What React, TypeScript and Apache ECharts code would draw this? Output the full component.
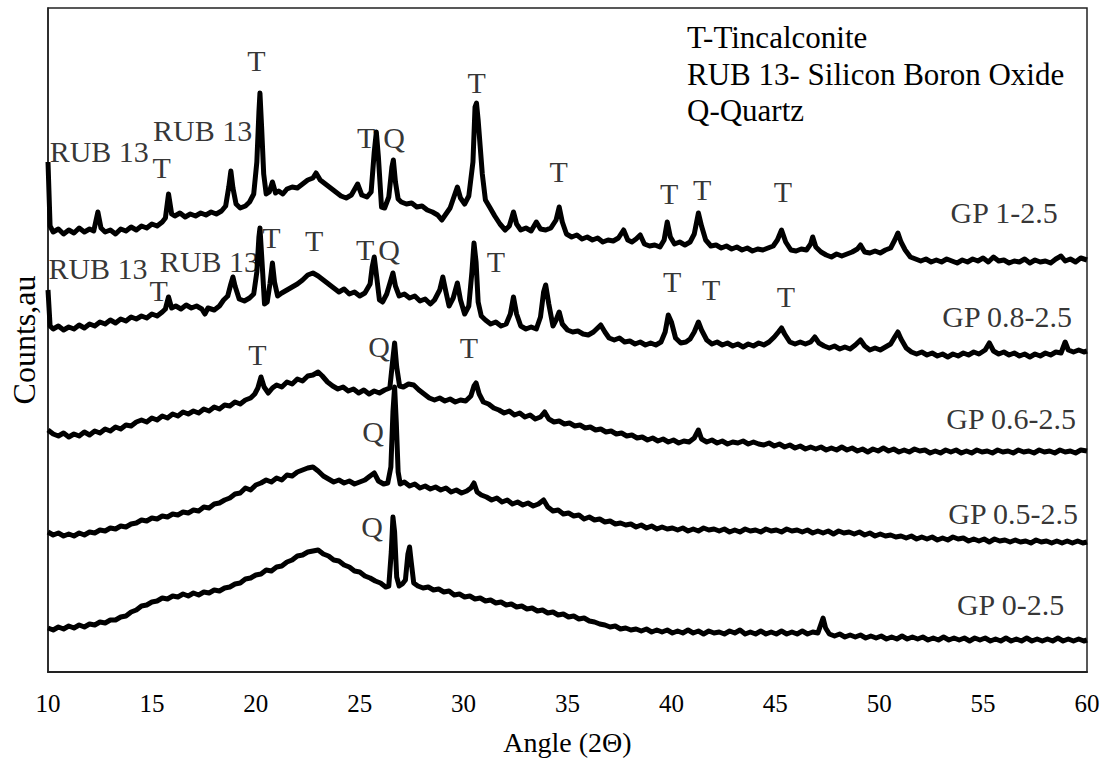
import React, { useEffect, useRef } from "react";
import * as echarts from "echarts";

// Diffraction angle range (2θ, degrees) and tick labels
const angleTicks = [10, 15, 20, 25, 30, 35, 40, 45, 50, 55, 60];

// Sample names, top to bottom, and the vertical shift applied to each pattern
const sampleNames = ["GP 1-2.5", "GP 0.8-2.5", "GP 0.6-2.5", "GP 0.5-2.5", "GP 0-2.5"];
const stackOffsets = [380, 300, 200, 100, 0];

// [2θ, intensity] pairs for each pattern (arbitrary units)
const gp1 = [
  [10.0,130],[10.1,66],[10.25,60],[10.5,63],[10.75,58],[11.0,62],[11.25,59],[11.5,64],[11.75,60],[12.0,63],[12.2,61],[12.4,80],[12.55,64],[12.75,60],[13.0,62],[13.25,58],[13.5,63],[13.75,61],[14.0,65],[14.25,62],[14.5,66],[14.75,64],[15.0,68],[15.25,66],[15.5,70],[15.65,74],[15.8,98],[15.95,78],[16.1,76],[16.35,79],[16.6,75],[16.85,78],[17.1,76],[17.35,79],[17.6,77],[17.85,80],[18.1,78],[18.35,81],[18.55,86],[18.7,105],[18.8,121],[18.9,104],[19.05,88],[19.25,84],[19.5,86],[19.7,90],[19.9,98],[20.05,130],[20.15,180],[20.2,199],[20.28,165],[20.38,118],[20.5,98],[20.65,100],[20.8,110],[20.95,99],[21.1,101],[21.3,98],[21.5,103],[21.75,105],[22.0,104],[22.25,108],[22.5,112],[22.75,114],[22.9,119],[23.1,112],[23.35,108],[23.6,104],[23.85,100],[24.1,96],[24.35,94],[24.6,97],[24.9,108],[25.1,97],[25.35,95],[25.55,100],[25.7,140],[25.8,160],[25.9,135],[26.05,85],[26.2,84],[26.4,95],[26.55,125],[26.62,132],[26.72,110],[26.85,93],[27.0,90],[27.25,88],[27.5,89],[27.75,85],[28.0,86],[28.25,82],[28.5,80],[28.75,77],[28.95,72],[29.15,78],[29.35,84],[29.55,96],[29.7,105],[29.85,94],[30.05,88],[30.25,96],[30.45,130],[30.55,185],[30.62,189],[30.7,172],[30.8,145],[30.9,118],[31.05,92],[31.25,85],[31.5,76],[31.75,68],[32.0,62],[32.2,66],[32.4,80],[32.55,68],[32.75,62],[33.0,64],[33.25,61],[33.5,70],[33.7,63],[33.95,62],[34.2,64],[34.45,72],[34.6,85],[34.75,70],[34.95,58],[35.2,55],[35.45,57],[35.7,53],[35.95,55],[36.2,52],[36.45,54],[36.7,50],[36.95,52],[37.2,51],[37.45,54],[37.7,62],[37.9,52],[38.1,50],[38.3,53],[38.5,57],[38.7,48],[38.95,46],[39.2,47],[39.45,45],[39.65,52],[39.8,70],[39.95,55],[40.15,48],[40.4,50],[40.65,47],[40.9,50],[41.1,58],[41.3,79],[41.45,66],[41.65,52],[41.9,46],[42.15,47],[42.4,44],[42.65,46],[42.9,43],[43.15,45],[43.4,42],[43.65,44],[43.9,41],[44.15,43],[44.4,42],[44.65,44],[44.9,46],[45.1,52],[45.3,62],[45.5,50],[45.75,42],[46.0,41],[46.25,43],[46.5,42],[46.7,48],[46.8,55],[46.95,45],[47.2,40],[47.45,37],[47.7,35],[47.95,38],[48.2,36],[48.45,38],[48.7,40],[48.95,43],[49.1,47],[49.3,40],[49.55,39],[49.8,41],[50.05,39],[50.3,42],[50.55,44],[50.75,52],[50.9,59],[51.05,50],[51.25,42],[51.5,35],[51.75,33],[52.0,31],[52.25,33],[52.5,30],[52.75,32],[53.0,30],[53.25,33],[53.5,31],[53.75,29],[54.0,32],[54.25,30],[54.5,33],[54.75,31],[55.0,34],[55.25,30],[55.5,35],[55.75,31],[56.0,32],[56.25,29],[56.5,31],[56.75,30],[57.0,33],[57.25,29],[57.5,32],[57.75,30],[58.0,31],[58.25,29],[58.5,33],[58.75,36],[58.95,31],[59.2,33],[59.45,30],[59.7,34],[60.0,32],
];

const gp08 = [
  [10.0,82],[10.1,46],[10.25,43],[10.5,46],[10.75,42],[11.0,45],[11.25,43],[11.5,47],[11.75,44],[12.0,48],[12.25,46],[12.5,50],[12.75,48],[13.0,52],[13.25,49],[13.5,53],[13.75,51],[14.0,55],[14.25,53],[14.5,56],[14.75,54],[15.0,58],[15.25,56],[15.5,60],[15.65,63],[15.8,75],[15.95,64],[16.15,66],[16.4,63],[16.65,67],[16.9,64],[17.15,66],[17.4,63],[17.55,58],[17.7,64],[18.0,62],[18.25,66],[18.45,72],[18.65,76],[18.8,88],[18.9,95],[19.0,86],[19.2,73],[19.45,71],[19.7,74],[19.9,78],[20.05,100],[20.15,135],[20.2,144],[20.3,110],[20.42,68],[20.55,70],[20.68,88],[20.8,109],[20.9,90],[21.05,76],[21.25,79],[21.5,82],[21.75,85],[22.0,88],[22.25,92],[22.5,97],[22.75,99],[23.0,96],[23.25,92],[23.5,88],[23.75,84],[24.0,80],[24.25,83],[24.5,78],[24.75,80],[25.0,76],[25.25,79],[25.5,88],[25.6,105],[25.7,115],[25.8,98],[25.95,72],[26.1,70],[26.3,78],[26.5,92],[26.6,99],[26.72,86],[26.9,76],[27.15,78],[27.4,74],[27.65,76],[27.9,71],[28.15,73],[28.4,68],[28.6,72],[28.85,82],[29.0,95],[29.15,80],[29.3,66],[29.5,74],[29.7,89],[29.85,72],[30.05,58],[30.25,66],[30.4,100],[30.5,129],[30.6,110],[30.7,70],[30.85,56],[31.05,52],[31.3,48],[31.55,50],[31.8,46],[32.05,48],[32.25,58],[32.4,75],[32.55,58],[32.75,46],[33.0,43],[33.25,45],[33.5,43],[33.7,55],[33.85,80],[33.95,87],[34.1,68],[34.3,46],[34.45,52],[34.6,60],[34.75,48],[35.0,42],[35.25,40],[35.5,41],[35.75,38],[36.0,37],[36.25,40],[36.45,44],[36.6,47],[36.8,40],[37.0,34],[37.25,32],[37.5,34],[37.75,30],[38.0,31],[38.25,28],[38.5,30],[38.75,27],[39.0,29],[39.25,27],[39.5,30],[39.7,40],[39.85,57],[40.0,50],[40.2,34],[40.45,29],[40.7,30],[40.9,33],[41.1,40],[41.3,50],[41.45,42],[41.7,32],[41.95,28],[42.2,30],[42.45,27],[42.7,29],[42.95,26],[43.2,28],[43.45,25],[43.7,28],[43.95,26],[44.2,29],[44.45,27],[44.7,30],[44.95,35],[45.15,40],[45.3,44],[45.45,38],[45.7,30],[45.95,28],[46.2,30],[46.45,28],[46.7,30],[46.9,35],[47.1,29],[47.35,26],[47.6,24],[47.85,26],[48.1,23],[48.35,25],[48.6,23],[48.85,27],[49.1,32],[49.3,26],[49.55,22],[49.8,24],[50.05,22],[50.3,25],[50.55,28],[50.75,35],[50.9,40],[51.05,33],[51.3,24],[51.55,20],[51.8,18],[52.05,20],[52.3,17],[52.55,19],[52.8,16],[53.05,18],[53.3,15],[53.55,18],[53.8,16],[54.05,19],[54.3,17],[54.55,20],[54.8,18],[55.1,22],[55.3,29],[55.5,21],[55.75,18],[56.0,20],[56.25,17],[56.5,19],[56.75,16],[57.0,18],[57.25,15],[57.5,18],[57.75,16],[58.0,19],[58.25,17],[58.5,20],[58.75,19],[58.95,30],[59.1,22],[59.35,20],[59.6,22],[59.85,20],[60.0,21],
];

const gp06 = [
  [10.0,42],[10.25,38],[10.5,36],[10.75,39],[11.0,35],[11.25,38],[11.5,36],[11.75,40],[12.0,37],[12.25,41],[12.5,39],[12.75,43],[13.0,41],[13.25,45],[13.5,43],[13.75,47],[14.0,46],[14.25,50],[14.5,52],[14.75,50],[15.0,54],[15.25,52],[15.5,56],[15.75,54],[16.0,58],[16.25,56],[16.5,60],[16.75,58],[17.0,61],[17.25,59],[17.5,63],[17.75,61],[18.0,65],[18.25,63],[18.5,67],[18.75,66],[19.0,70],[19.25,68],[19.5,72],[19.75,74],[19.95,78],[20.1,84],[20.25,95],[20.4,85],[20.6,79],[20.8,84],[21.0,87],[21.25,85],[21.5,90],[21.75,88],[22.0,93],[22.25,91],[22.5,96],[22.75,97],[23.0,100],[23.2,96],[23.45,90],[23.7,86],[23.95,83],[24.2,85],[24.45,81],[24.7,83],[24.95,79],[25.2,82],[25.45,78],[25.7,81],[25.95,79],[26.2,82],[26.45,84],[26.58,110],[26.68,129],[26.78,105],[26.92,86],[27.1,85],[27.35,88],[27.6,87],[27.85,82],[28.1,78],[28.35,74],[28.6,72],[28.85,74],[29.1,71],[29.35,73],[29.6,70],[29.85,72],[30.1,71],[30.35,76],[30.5,86],[30.6,89],[30.75,78],[30.95,70],[31.2,68],[31.45,64],[31.7,62],[31.95,59],[32.2,61],[32.45,57],[32.7,59],[32.95,55],[33.2,57],[33.45,53],[33.7,55],[33.9,60],[34.1,53],[34.35,50],[34.6,51],[34.85,48],[35.1,49],[35.35,46],[35.6,47],[35.85,44],[36.1,45],[36.35,42],[36.6,43],[36.85,40],[37.1,41],[37.35,38],[37.6,39],[37.85,36],[38.1,37],[38.35,34],[38.6,35],[38.85,32],[39.1,34],[39.35,31],[39.6,33],[39.85,30],[40.1,32],[40.35,29],[40.6,31],[40.85,30],[41.1,34],[41.3,42],[41.45,33],[41.7,30],[41.95,32],[42.2,29],[42.45,31],[42.7,28],[42.95,30],[43.2,29],[43.45,31],[43.7,28],[43.95,30],[44.2,28],[44.45,27],[44.7,29],[44.95,26],[45.2,28],[45.45,25],[45.7,27],[45.95,24],[46.2,26],[46.45,23],[46.7,25],[46.95,23],[47.2,25],[47.45,22],[47.7,24],[47.95,22],[48.2,25],[48.45,22],[48.7,24],[48.95,21],[49.2,23],[49.45,20],[49.7,23],[49.95,21],[50.2,24],[50.45,21],[50.7,23],[50.95,20],[51.2,22],[51.45,20],[51.7,23],[51.95,21],[52.2,22],[52.45,19],[52.7,21],[52.95,19],[53.2,22],[53.45,20],[53.7,22],[53.95,19],[54.2,21],[54.45,19],[54.7,22],[54.95,20],[55.2,21],[55.45,19],[55.7,22],[55.95,20],[56.2,21],[56.45,19],[56.7,22],[56.95,20],[57.2,21],[57.45,19],[57.7,22],[57.95,20],[58.2,21],[58.45,19],[58.7,22],[58.95,20],[59.2,21],[59.45,19],[59.7,22],[60.0,21],
];

const gp05 = [
  [10.0,40],[10.25,37],[10.5,39],[10.75,36],[11.0,38],[11.25,36],[11.5,39],[11.75,37],[12.0,40],[12.25,39],[12.5,42],[12.75,41],[13.0,44],[13.25,43],[13.5,46],[13.75,45],[14.0,48],[14.25,49],[14.5,52],[14.75,51],[15.0,54],[15.25,53],[15.5,56],[15.75,55],[16.0,58],[16.25,57],[16.5,60],[16.75,59],[17.0,62],[17.25,61],[17.5,65],[17.75,64],[18.0,68],[18.25,69],[18.5,72],[18.75,74],[19.0,78],[19.25,79],[19.5,84],[19.75,82],[20.0,87],[20.25,89],[20.5,92],[20.75,90],[21.0,94],[21.25,92],[21.5,97],[21.75,96],[22.0,100],[22.25,102],[22.5,104],[22.75,105],[23.0,101],[23.25,96],[23.5,93],[23.75,90],[24.0,92],[24.25,89],[24.5,91],[24.75,88],[25.0,90],[25.25,92],[25.5,96],[25.7,99],[25.9,91],[26.15,88],[26.35,89],[26.5,105],[26.6,160],[26.68,185],[26.76,150],[26.85,100],[26.95,88],[27.15,90],[27.4,86],[27.65,88],[27.9,84],[28.15,86],[28.4,83],[28.65,85],[28.9,82],[29.15,84],[29.4,80],[29.65,82],[29.9,79],[30.15,81],[30.35,84],[30.5,89],[30.65,80],[30.85,77],[31.1,75],[31.35,72],[31.6,74],[31.85,70],[32.1,72],[32.35,68],[32.6,70],[32.85,67],[33.1,69],[33.35,66],[33.6,68],[33.85,72],[34.05,65],[34.3,61],[34.55,62],[34.8,58],[35.05,59],[35.3,56],[35.55,57],[35.8,53],[36.05,55],[36.3,52],[36.55,53],[36.8,50],[37.05,51],[37.3,48],[37.55,49],[37.8,47],[38.05,48],[38.3,45],[38.55,47],[38.8,44],[39.05,46],[39.3,43],[39.55,45],[39.8,43],[40.05,44],[40.3,42],[40.55,44],[40.8,41],[41.05,43],[41.3,41],[41.55,44],[41.8,42],[42.05,43],[42.3,41],[42.55,43],[42.8,40],[43.05,42],[43.3,40],[43.55,43],[43.8,41],[44.05,42],[44.3,40],[44.55,43],[44.8,41],[45.05,42],[45.3,40],[45.55,43],[45.8,41],[46.05,42],[46.3,40],[46.55,42],[46.8,39],[47.05,41],[47.3,39],[47.55,41],[47.8,38],[48.05,41],[48.3,39],[48.55,40],[48.8,38],[49.05,40],[49.3,37],[49.55,39],[49.8,36],[50.05,38],[50.3,36],[50.55,37],[50.8,35],[51.05,36],[51.3,34],[51.55,36],[51.8,33],[52.05,35],[52.3,33],[52.55,35],[52.8,32],[53.05,34],[53.3,32],[53.55,35],[53.8,33],[54.05,34],[54.3,31],[54.55,33],[54.8,31],[55.05,33],[55.3,30],[55.55,33],[55.8,31],[56.05,32],[56.3,30],[56.55,32],[56.8,30],[57.05,31],[57.3,29],[57.55,32],[57.8,30],[58.05,31],[58.3,29],[58.55,31],[58.8,29],[59.05,31],[59.3,29],[59.55,31],[59.8,29],[60.0,30],
];

const gp0 = [
  [10.0,44],[10.25,42],[10.5,45],[10.75,43],[11.0,46],[11.25,44],[11.5,47],[11.75,45],[12.0,48],[12.25,47],[12.5,50],[12.75,49],[13.0,52],[13.25,52],[13.5,55],[13.75,56],[14.0,60],[14.25,62],[14.5,66],[14.75,67],[15.0,70],[15.25,71],[15.5,74],[15.75,73],[16.0,76],[16.25,75],[16.5,78],[16.75,76],[17.0,79],[17.25,77],[17.5,80],[17.75,79],[18.0,82],[18.25,81],[18.5,84],[18.75,85],[19.0,88],[19.25,89],[19.5,93],[19.75,94],[20.0,97],[20.25,98],[20.5,102],[20.75,101],[21.0,105],[21.25,106],[21.5,110],[21.75,112],[22.0,116],[22.25,117],[22.5,120],[22.75,121],[23.0,122],[23.25,118],[23.5,116],[23.75,112],[24.0,111],[24.25,107],[24.5,105],[24.75,101],[25.0,100],[25.25,96],[25.5,94],[25.75,91],[26.0,89],[26.25,85],[26.4,86],[26.52,120],[26.6,155],[26.68,140],[26.78,95],[26.9,86],[27.05,88],[27.2,92],[27.32,118],[27.4,125],[27.48,110],[27.6,89],[27.8,86],[28.05,84],[28.3,85],[28.55,82],[28.8,83],[29.05,80],[29.3,81],[29.55,77],[29.8,78],[30.05,75],[30.3,76],[30.55,73],[30.8,74],[31.05,71],[31.3,72],[31.55,69],[31.8,70],[32.05,67],[32.3,68],[32.55,65],[32.8,66],[33.05,63],[33.3,64],[33.55,61],[33.8,62],[34.05,59],[34.3,60],[34.55,57],[34.8,58],[35.05,55],[35.3,56],[35.55,53],[35.8,54],[36.05,51],[36.3,50],[36.55,48],[36.8,47],[37.05,45],[37.3,46],[37.55,43],[37.8,44],[38.05,42],[38.3,43],[38.55,41],[38.8,43],[39.05,40],[39.3,42],[39.55,40],[39.8,42],[40.05,39],[40.3,41],[40.55,39],[40.8,42],[41.05,39],[41.3,41],[41.55,38],[41.8,41],[42.05,39],[42.3,40],[42.55,38],[42.8,41],[43.05,39],[43.3,42],[43.55,38],[43.8,40],[44.05,38],[44.3,41],[44.55,38],[44.8,40],[45.05,38],[45.3,41],[45.55,38],[45.8,40],[46.05,38],[46.3,41],[46.55,38],[46.8,40],[47.05,39],[47.2,48],[47.3,54],[47.42,44],[47.6,38],[47.85,36],[48.1,38],[48.35,35],[48.6,37],[48.85,35],[49.1,37],[49.35,34],[49.6,36],[49.85,34],[50.1,36],[50.35,33],[50.6,35],[50.85,33],[51.1,36],[51.35,33],[51.6,35],[51.85,33],[52.1,35],[52.35,32],[52.6,34],[52.85,32],[53.1,35],[53.35,32],[53.6,34],[53.85,32],[54.1,34],[54.35,31],[54.6,34],[54.85,32],[55.1,34],[55.35,31],[55.6,33],[55.85,31],[56.1,34],[56.35,31],[56.6,33],[56.85,31],[57.1,34],[57.35,31],[57.6,33],[57.85,31],[58.1,33],[58.35,31],[58.6,34],[58.85,31],[59.1,33],[59.35,31],[59.6,33],[59.85,31],[60.0,32],
];

const patterns = [gp1, gp08, gp06, gp05, gp0];

// Phase identification tags: text and anchor [2θ, stacked level]
const phaseTags = [
  // GP 1-2.5
  { text: "RUB 13", at: [10.08, 521], align: "left" },
  { text: "T", at: [15.47, 505] },
  { text: "RUB 13", at: [17.44, 542] },
  { text: "T", at: [20.03, 612] },
  { text: "T", at: [25.31, 535] },
  { text: "Q", at: [26.65, 535] },
  { text: "T", at: [30.63, 590] },
  { text: "T", at: [34.57, 501] },
  { text: "T", at: [39.89, 479] },
  { text: "T", at: [41.48, 483] },
  { text: "T", at: [45.37, 481] },
  // GP 0.8-2.5
  { text: "RUB 13", at: [10.02, 404], align: "left" },
  { text: "T", at: [15.33, 382] },
  { text: "RUB 13", at: [17.77, 411] },
  { text: "T", at: [20.75, 435] },
  { text: "T", at: [22.81, 432] },
  { text: "T", at: [25.26, 423] },
  { text: "Q", at: [26.41, 423] },
  { text: "T", at: [31.55, 411] },
  { text: "T", at: [40.04, 391] },
  { text: "T", at: [41.91, 383] },
  { text: "T", at: [45.51, 376] },
  // GP 0.6-2.5
  { text: "T", at: [20.08, 318] },
  { text: "Q", at: [25.93, 326] },
  { text: "T", at: [30.25, 325] },
  // GP 0.5-2.5
  { text: "Q", at: [25.64, 241] },
  // GP 0-2.5
  { text: "Q", at: [25.59, 146] },
];

// Sample name tags, right-aligned at [2θ, stacked level]
const sampleTagAnchors = [
  [58.59, 460],
  [59.28, 356],
  [59.47, 254],
  [59.57, 159],
  [58.9, 68],
];

const keyLines = ["T-Tincalconite", "RUB 13- Silicon Boron Oxide", "Q-Quartz"];

const FONT = "Liberation Serif, Times New Roman, serif";

export default function App() {
  const ref = useRef<HTMLDivElement>(null);

  useEffect(() => {
    document.body.style.margin = "0";
    if (!ref.current) return;
    const chart = echarts.init(ref.current, null, { renderer: "svg" });

    const lineSeries = patterns.map((pts, i) => ({
      name: sampleNames[i],
      type: "line",
      data: pts.map(([a, v]) => [a, v + stackOffsets[i]]),
      showSymbol: false,
      symbol: "none",
      lineStyle: { color: "#000", width: 5, join: "round" },
      z: 2,
    }));

    const tagSeries = {
      type: "scatter",
      silent: true,
      symbolSize: 1,
      itemStyle: { color: "transparent" },
      z: 5,
      data: [
        ...phaseTags.map((t) => ({
          value: t.at,
          name: t.text,
          label: { align: t.align || "center" },
        })),
        ...sampleTagAnchors.map((at, i) => ({
          value: at,
          name: sampleNames[i],
          label: { align: "right" },
        })),
      ],
      label: {
        show: true,
        position: "inside",
        formatter: (p: any) => p.name,
        color: "#000",
        fontFamily: FONT,
        fontSize: 30,
        verticalAlign: "middle",
      },
    };

    chart.setOption({
      animation: false,
      backgroundColor: "#fff",
      grid: {
        left: 45,
        right: 26,
        top: 8,
        bottom: 92,
        show: true,
        borderColor: "#222",
        borderWidth: 1.5,
      },
      xAxis: {
        type: "value",
        min: angleTicks[0],
        max: angleTicks[angleTicks.length - 1],
        interval: 5,
        axisLine: { show: true, lineStyle: { color: "#222", width: 2 } },
        axisTick: { show: false },
        splitLine: { show: false },
        axisLabel: {
          color: "#000",
          fontFamily: FONT,
          fontSize: 25,
          margin: 19,
        },
        name: "Angle (2\u0398)",
        nameLocation: "middle",
        nameGap: 56,
        nameTextStyle: { color: "#000", fontFamily: FONT, fontSize: 28 },
      },
      yAxis: {
        type: "value",
        min: 0,
        max: 664,
        axisLine: { show: true, lineStyle: { color: "#222", width: 1.5 } },
        axisTick: { show: false },
        axisLabel: { show: false },
        splitLine: { show: false },
        name: "Counts,au",
        nameLocation: "middle",
        nameGap: 8,
        nameTextStyle: { color: "#000", fontFamily: FONT, fontSize: 32 },
      },
      graphic: keyLines.map((s, i) => ({
        type: "text",
        left: 687,
        top: 22 + i * 36.5,
        style: {
          text: s,
          fill: "#000",
          fontFamily: FONT,
          fontSize: 31,
        },
      })),
      series: [...lineSeries, tagSeries],
    });

    return () => chart.dispose();
  }, []);

  return <div ref={ref} style={{ width: 1113, height: 764 }} />;
}
